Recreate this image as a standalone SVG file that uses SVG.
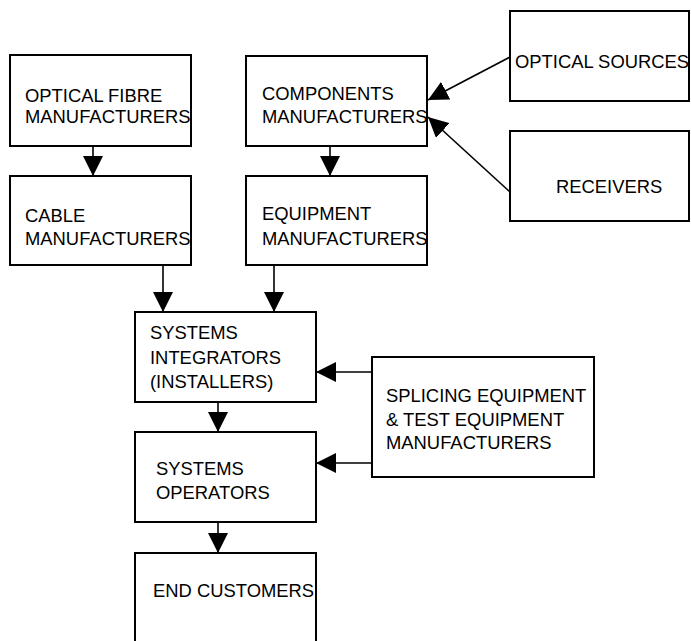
<svg xmlns="http://www.w3.org/2000/svg" width="691" height="641" viewBox="0 0 691 641">
<style>
.box{fill:#fff;stroke:#000;stroke-width:2}
.t{font-family:"Liberation Sans",Arial,sans-serif;font-size:18.4px;fill:#000}
.c{fill:none;stroke:#000;stroke-width:1.6}
</style>
<defs>
<marker id="ah" viewBox="0 0 20 20" refX="20" refY="10" markerWidth="20" markerHeight="20" markerUnits="userSpaceOnUse" orient="auto">
<path d="M0,0 L20,10 L0,20 Z" fill="#000"/>
</marker>
</defs>
<rect width="691" height="641" fill="#fff"/>
<g id="connectors">
<line class="c" x1="93" y1="146" x2="93" y2="176" marker-end="url(#ah)"/>
<line class="c" x1="330" y1="146" x2="330" y2="176" marker-end="url(#ah)"/>
<line class="c" x1="510" y1="57" x2="428" y2="100" marker-end="url(#ah)"/>
<line class="c" x1="510" y1="192" x2="428" y2="117" marker-end="url(#ah)"/>
<line class="c" x1="163" y1="265" x2="163" y2="312" marker-end="url(#ah)"/>
<line class="c" x1="274" y1="265" x2="274" y2="312" marker-end="url(#ah)"/>
<line class="c" x1="372" y1="372" x2="316" y2="372" marker-end="url(#ah)"/>
<line class="c" x1="372" y1="463" x2="316" y2="463" marker-end="url(#ah)"/>
<line class="c" x1="218" y1="402" x2="218" y2="432" marker-end="url(#ah)"/>
<line class="c" x1="218" y1="522" x2="218" y2="553" marker-end="url(#ah)"/>
</g>
<g id="fibre">
<rect class="box" x="10" y="55" width="181" height="91"/>
<text class="t" x="25" y="102">OPTICAL FIBRE</text>
<text class="t" x="25" y="123">MANUFACTURERS</text>
</g>
<g id="cable">
<rect class="box" x="10" y="176" width="181" height="89"/>
<text class="t" x="25" y="222">CABLE</text>
<text class="t" x="25" y="245">MANUFACTURERS</text>
</g>
<g id="components">
<rect class="box" x="246" y="56" width="181" height="90"/>
<text class="t" x="262" y="100">COMPONENTS</text>
<text class="t" x="262" y="123">MANUFACTURERS</text>
</g>
<g id="equipment">
<rect class="box" x="246" y="176" width="181" height="89"/>
<text class="t" x="262" y="220">EQUIPMENT</text>
<text class="t" x="262" y="245">MANUFACTURERS</text>
</g>
<g id="sources">
<rect class="box" x="510" y="11" width="179" height="90"/>
<text class="t" x="515" y="68">OPTICAL SOURCES</text>
</g>
<g id="receivers">
<rect class="box" x="510" y="131" width="179" height="90"/>
<text class="t" x="556" y="193">RECEIVERS</text>
</g>
<g id="integrators">
<rect class="box" x="135" y="312" width="181" height="90"/>
<text class="t" x="150" y="339">SYSTEMS</text>
<text class="t" x="150" y="364">INTEGRATORS</text>
<text class="t" x="150" y="388">(INSTALLERS)</text>
</g>
<g id="splicing">
<rect class="box" x="372" y="357" width="222" height="120"/>
<text class="t" x="386" y="402">SPLICING EQUIPMENT</text>
<text class="t" x="386" y="426">&amp; TEST EQUIPMENT</text>
<text class="t" x="386" y="449">MANUFACTURERS</text>
</g>
<g id="operators">
<rect class="box" x="135" y="432" width="181" height="90"/>
<text class="t" x="156" y="475">SYSTEMS</text>
<text class="t" x="156" y="499">OPERATORS</text>
</g>
<g id="customers">
<rect class="box" x="135" y="553" width="181" height="100"/>
<text class="t" x="153" y="597">END CUSTOMERS</text>
</g>
</svg>
